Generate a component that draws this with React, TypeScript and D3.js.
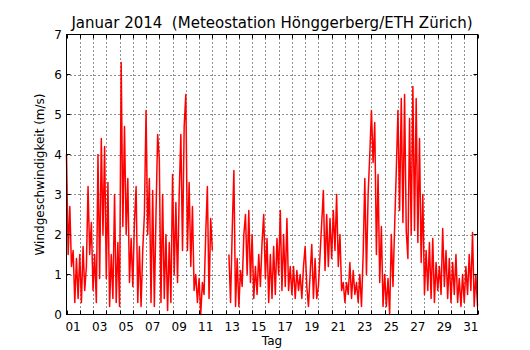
import React from "react";
import * as d3 from "d3";

// wind speed (m/s), one reading every 3 hours
// null = no data (station gap on Jan 12/13)
const jan01to07 = [
  4.0, 1.5, 2.7, 1.2, 1.6, 0.3, 1.4, 0.4,
  1.5, 0.3, 1.7, 0.6, 1.2, 3.2, 1.5, 2.3,
  0.6, 1.5, 0.3, 4.0, 0.9, 4.4, 2.0, 4.2,
  0.9, 3.3, 0.2, 1.5, 0.4, 3.0, 0.3, 1.8,
  0.2, 6.3, 2.2, 4.7, 2.0, 3.4, 0.8, 1.9,
  0.7, 2.3, 3.2, 0.3, 1.7, 0.2, 1.6, 2.5,
  5.1, 2.0, 3.4, 0.3, 3.1, 0.2, 2.5, 4.5,
];
const jan08to14 = [
  3.9, 0.3, 3.0, 0.4, 2.0, 0.1, 1.8, 0.3,
  3.5, 1.0, 2.8, 0.8, 3.0, 4.5, 1.6, 4.7,
  5.5, 1.6, 3.3, 1.2, 2.7, 0.6, 1.0, 0.3,
  0.9, 0.0, 0.8, 0.5, 2.0, 3.2, 0.4, 2.4,
  1.6, null, null, null, null, null, null, null,
  null, null, 1.5, 0.3, 2.1, 3.6, 0.2, 1.4,
  0.2, 1.1, 0.7, 2.0, 2.5, 1.0, 2.6, 0.8,
];
const jan15to21 = [
  2.0, 0.4, 1.2, 0.5, 1.5, 0.7, 1.8, 2.5,
  0.9, 1.9, 0.3, 1.5, 0.4, 1.7, 0.5, 1.9,
  1.0, 2.6, 0.6, 2.0, 0.7, 2.4, 0.6, 1.2,
  0.5, 1.2, 0.4, 1.1, 0.6, 1.0, 0.4, 1.2,
  1.7, 0.7, 0.2, 1.0, 1.75, 0.4, 1.4, 0.4,
  0.7, 1.5, 2.3, 3.1, 1.1, 2.5, 1.2, 2.4,
  1.4, 2.6, 1.6, 3.0, 1.2, 2.0, 0.6, 0.8,
];
const jan22to28 = [
  0.3, 0.8, 0.5, 1.3, 0.4, 1.1, 0.5, 0.8,
  0.3, 1.0, 0.2, 1.5, 3.4, 1.0, 3.0, 4.0,
  5.1, 3.8, 4.8, 1.5, 3.5, 0.8, 2.2, 0.2,
  1.0, 0.2, 0.9, 0.0, 2.0, 0.7, 2.2, 3.6,
  5.1, 2.6, 5.4, 2.3, 5.5, 2.1, 1.4, 4.9,
  2.0, 5.7, 2.1, 5.4, 1.8, 4.4, 1.3, 3.0,
  0.5, 1.6, 0.6, 1.8, 0.4, 1.9, 0.3, 1.3,
];
const jan29to31 = [
  0.6, 1.2, 0.5, 2.15, 0.7, 1.6, 0.4, 1.4,
  0.3, 1.3, 0.5, 1.5, 0.3, 0.9, 0.2, 1.0,
  0.3, 1.2, 0.5, 1.5, 0.6, 2.05, 0.2, 1.0,
  0.2,
];

const dayLabels = ["01", "03", "05", "07", "09", "11", "13", "15", "17", "19", "21", "23", "25", "27", "29", "31"];
const yTicks = [0, 1, 2, 3, 4, 5, 6, 7];

const speed: (number | null)[] = [...jan01to07, ...jan08to14, ...jan15to21, ...jan22to28, ...jan29to31];

const W = 530;
const H = 350;
const left = 66.5;
const right = 477.5;
const top = 34.5;
const bottom = 314.5;
const font = "DejaVu Sans, sans-serif";

const start = new Date(Date.UTC(2014, 0, 1));
const end = new Date(Date.UTC(2014, 1, 1));
const stepMs = 3 * 3600 * 1000;

export default function App() {
  const x = d3.scaleUtc().domain([start, end]).range([left, right]);
  const y = d3.scaleLinear().domain([0, 7]).range([bottom, top]);

  const line = d3
    .line<number | null>()
    .defined((v) => v !== null)
    .x((_, i) => x(new Date(start.getTime() + i * stepMs)))
    .y((v) => y(v as number));

  const days = d3.utcDay.range(start, d3.utcDay.offset(end, 1));
  const inner = days.slice(1, -1);

  return (
    <svg width={W} height={H} style={{ position: "absolute", left: 0, top: 0, background: "#fff" }}>
      <rect x={0} y={0} width={W} height={H} fill="#fff" />
      {/* grid */}
      <g stroke="#222" strokeWidth={1} strokeDasharray="1,3" fill="none">
        {inner.map((d, i) => (
          <line key={"gx" + i} x1={Math.round(x(d)) + 0.5} x2={Math.round(x(d)) + 0.5} y1={top} y2={bottom} />
        ))}
        {yTicks.slice(1, -1).map((v) => (
          <line key={"gy" + v} x1={left} x2={right} y1={Math.round(y(v)) + 0.5} y2={Math.round(y(v)) + 0.5} />
        ))}
      </g>
      {/* data */}
      <path
        d={line(speed) || ""}
        fill="none"
        stroke="#ff0000"
        strokeWidth={1.5}
        strokeLinejoin="round"
      />
      {/* ticks */}
      <g stroke="#000" strokeWidth={1}>
        {days.map((d, i) => {
          const px = Math.round(x(d)) + 0.5;
          return (
            <g key={"tx" + i}>
              <line x1={px} x2={px} y1={bottom} y2={bottom - 4} />
              <line x1={px} x2={px} y1={top} y2={top + 4} />
            </g>
          );
        })}
        {yTicks.map((v) => (
          <g key={"ty" + v}>
            <line x1={left} x2={left + 4} y1={y(v)} y2={y(v)} />
            <line x1={right} x2={right - 4} y1={y(v)} y2={y(v)} />
          </g>
        ))}
      </g>
      <rect x={left} y={top} width={right - left} height={bottom - top} fill="none" stroke="#000" strokeWidth={1} />
      {/* tick labels */}
      <g fontFamily={font} fontSize={12} fill="#000">
        {dayLabels.map((lab) => {
          const noon = new Date(Date.UTC(2014, 0, +lab, 12));
          return (
            <text key={lab} x={x(noon)} y={331} textAnchor="middle">
              {lab}
            </text>
          );
        })}
        {yTicks.map((v) => (
          <text key={"yl" + v} x={62} y={y(v) + 4.5} textAnchor="end">
            {v}
          </text>
        ))}
      </g>
      <text x={(left + right) / 2} y={345} textAnchor="middle" fontFamily={font} fontSize={12}>
        Tag
      </text>
      <text
        transform={`translate(44,${(top + bottom) / 2}) rotate(-90)`}
        textAnchor="middle"
        fontFamily={font}
        fontSize={12}
      >
        Windgeschwindigkeit (m/s)
      </text>
      <text
        x={(left + right) / 2}
        y={28}
        textAnchor="middle"
        fontFamily={font}
        fontSize={15}
        style={{ whiteSpace: "pre" }}
      >
        {"Januar 2014  (Meteostation Hönggerberg/ETH Zürich)"}
      </text>
    </svg>
  );
}
